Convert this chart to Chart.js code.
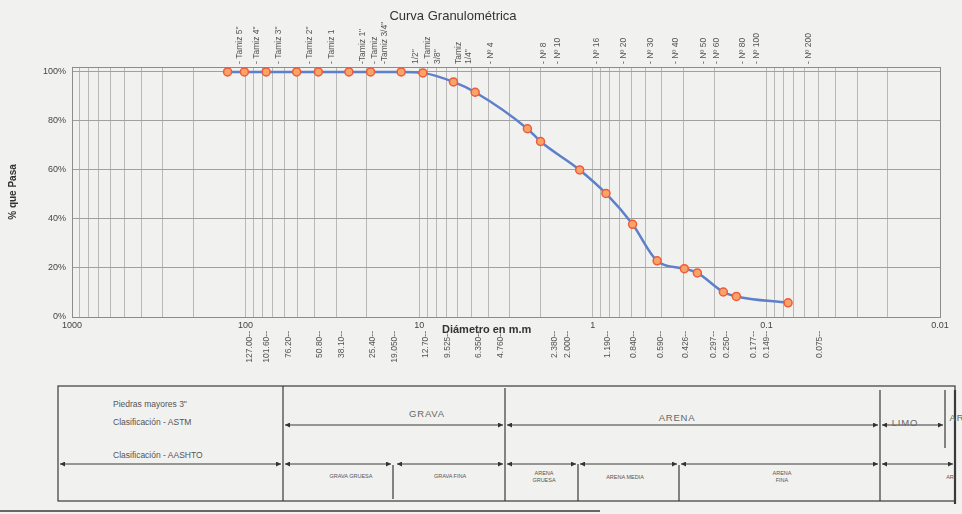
<!DOCTYPE html>
<html lang="es">
<head>
<meta charset="utf-8">
<title>Curva Granulométrica</title>
<script src="https://cdn.jsdelivr.net/npm/chart.js@4.4.1/dist/chart.umd.min.js"></script>
<style>
  html, body { margin: 0; padding: 0; background: #f1f1ef; }
  body { width: 962px; height: 514px; position: relative; overflow: hidden; font-family: "Liberation Sans", Arial, sans-serif; }
  #tabla { position: absolute; left: 0; top: 0; }
  #wrap { position: absolute; left: 0; top: 0; width: 962px; height: 380px; }
  #titulo { position: absolute; top: 8px; left: 353px; width: 200px; text-align: center; font-size: 13px; color: #333; }
  #eje-x { position: absolute; left: 442px; top: 323px; font-size: 11px; font-weight: bold; color: #333; }
</style>
</head>
<body>

<!-- cuadro de clasificación ASTM / AASHTO -->
<svg id="tabla" width="962" height="514" viewBox="0 0 962 514" font-family="Liberation Sans, Arial, sans-serif">
  <defs>
    <marker id="fl" viewBox="0 0 6 6" refX="6" refY="3" markerWidth="5" markerHeight="5" orient="auto-start-reverse">
      <path d="M0,0 L6,3 L0,6 z" fill="#333"/>
    </marker>
  </defs>
  <g stroke="#3a3a3a" stroke-width="1.2" fill="none">
    <rect x="58" y="386" width="897" height="115"/>
    <line x1="283" y1="386" x2="283" y2="501"/>
    <line x1="393" y1="465" x2="393" y2="499"/>
    <line x1="505" y1="388" x2="505" y2="501"/>
    <line x1="578" y1="464" x2="578" y2="501"/>
    <line x1="679" y1="465" x2="679" y2="501"/>
    <line x1="880" y1="390" x2="880" y2="501"/>
    <line x1="945" y1="390" x2="945" y2="448"/>
    <line x1="955" y1="390" x2="955" y2="504" stroke-width="2.2"/>
    <line x1="0" y1="511" x2="600" y2="511" stroke-width="1.6"/>
  </g>
  <g stroke="#3a3a3a" stroke-width="1" marker-start="url(#fl)" marker-end="url(#fl)">
    <line x1="285" y1="425" x2="503" y2="425"/>
    <line x1="507" y1="425" x2="878" y2="425"/>
    <line x1="882" y1="425" x2="943" y2="425"/>
    <line x1="60" y1="464" x2="281" y2="464"/>
    <line x1="285" y1="464" x2="391" y2="464"/>
    <line x1="397" y1="464" x2="503" y2="464"/>
    <line x1="507" y1="464" x2="576" y2="464"/>
    <line x1="580" y1="464" x2="677" y2="464"/>
    <line x1="681" y1="464" x2="878" y2="464"/>
    <line x1="882" y1="464" x2="953" y2="464"/>
  </g>
  <g fill="#555" font-size="8.5">
    <text x="113" y="407">Piedras mayores 3"</text>
    <text x="113" y="425">Clasificación - ASTM</text>
    <text x="113" y="458">Clasificación - AASHTO</text>
  </g>
  <g fill="#666" font-size="9.5" text-anchor="middle" letter-spacing="0.8">
    <text x="427" y="417">GRAVA</text>
    <text x="677" y="421">ARENA</text>
    <text x="905" y="426">LIMO</text>
    <text x="957" y="421">AR</text>
  </g>
  <g fill="#555" font-size="5.5" text-anchor="middle">
    <text x="351" y="478">GRAVA GRUESA</text>
    <text x="450" y="478">GRAVA FINA</text>
    <text x="544" y="475">ARENA</text>
    <text x="544" y="482">GRUESA</text>
    <text x="625" y="479">ARENA MEDIA</text>
    <text x="782" y="475">ARENA</text>
    <text x="782" y="482">FINA</text>
    <text x="950" y="479">AR</text>
  </g>
</svg>

<div id="wrap"><canvas id="curva" width="962" height="380"></canvas></div>
<div id="titulo">Curva Granulométrica</div>
<div id="eje-x">Diámetro en m.m</div>

<script>
// abertura de tamices (mm) y % que pasa
const tamicesMm = [127.00, 101.60, 76.20, 50.80, 38.10, 25.40, 19.050, 12.70, 9.525, 6.350, 4.760,
                   2.380, 2.000, 1.190, 0.840, 0.590, 0.426, 0.297, 0.250, 0.177, 0.149, 0.075];
const porcentajePasa = [100, 100, 100, 100, 100, 100, 100, 100, 99.6, 95.9, 91.7,
                        76.8, 71.6, 60, 50.4, 37.8, 22.9, 19.7, 18, 10.2, 8.4, 5.8];

// etiquetas de la plantilla
const nombresTamiz = ['- Tamiz 5"', '- Tamiz 4"', '- Tamiz 3"', '- Tamiz 2"', '- Tamiz 1', '-Tamiz 1"',
                      ['- Tamiz', '-Tamiz 3/4"'], ['', '1/2"'], ['- Tamiz', '3/8"'], ['Tamiz', '1/4"'], '- Nº 4',
                      '- Nº 8', '- Nº 10', '- Nº 16', '- Nº 20', '- Nº 30', '- Nº 40', '- Nº 50', '- Nº 60',
                      '- Nº 80', '- Nº 100', '- Nº 200'];
const etiquetasMm = ['127.00--', '101.60--', '76.20--', '50.80--', '38.10--', '25.40--', '19.050--', '12.70--',
                     '9.525--', '6.350--', '4.760--', '2.380--', '2.000--', '1.190--', '0.840--', '0.590--',
                     '0.426--', '0.297--', '0.250--', '0.177--', '0.149--', '0.075--'];
const valoresDecada = [1000, 100, 10, 1, 0.1, 0.01];
const etiquetasDecada = ['1000', '100', '10', '1', '0.1', '0.01'];
const ticksY = [0, 20, 40, 60, 80, 100];

document.addEventListener('DOMContentLoaded', function () {
    Chart.defaults.font.family = '"Liberation Sans", Arial, sans-serif';

    // líneas de la cuadrícula logarítmica 1..9 por década
    const lineasLog = [];
    for (let e = -2; e <= 2; e++) {
        for (let m = 1; m <= 9; m++) {
            lineasLog.push(Number((m * Math.pow(10, e)).toPrecision(3)));
        }
    }
    lineasLog.push(1000);

    // las etiquetas de tamices de la plantilla no coinciden con la escala de datos
    const plantillaMin = 0.0155;
    const plantillaMax = 1285;

    const marco = {
        id: 'marco',
        beforeDatasetsDraw(chart) {
            const { ctx, chartArea: a } = chart;
            ctx.save();
            ctx.strokeStyle = '#8c8c8c';
            ctx.lineWidth = 1;
            ctx.strokeRect(a.left + 0.5, a.top + 0.5, a.width, a.height);
            ctx.restore();
        }
    };

    function ejeEtiquetas(posicion, etiquetas, alto, padding) {
        return {
            type: 'logarithmic',
            position: posicion,
            min: plantillaMin,
            max: plantillaMax,
            reverse: true,
            weight: 1,
            grid: { display: false },
            border: { display: false },
            afterBuildTicks: function (s) { s.ticks = tamicesMm.map(v => ({ value: v })); },
            afterFit: function (s) { s.height = alto; },
            ticks: {
                autoSkip: false,
                minRotation: 90,
                maxRotation: 90,
                padding: padding,
                color: '#555',
                font: { size: 8.5 },
                callback: function (v) {
                    const i = tamicesMm.indexOf(v);
                    return i >= 0 ? etiquetas[i] : '';
                }
            }
        };
    }

    const ctx = document.getElementById('curva').getContext('2d');
    new Chart(ctx, {
        type: 'line',
        data: {
            datasets: [{
                label: '% que Pasa',
                data: tamicesMm.map((d, i) => ({ x: d, y: porcentajePasa[i] })),
                borderColor: '#5e7fca',
                borderWidth: 2.5,
                cubicInterpolationMode: 'monotone',
                pointRadius: 4,
                pointBorderWidth: 1.5,
                pointBackgroundColor: '#f7a469',
                pointBorderColor: '#ee5b3b',
                fill: false
            }]
        },
        options: {
            responsive: false,
            animation: false,
            layout: { padding: { left: 0, right: 22, top: 0, bottom: 0 } },
            plugins: {
                legend: { display: false },
                tooltip: { enabled: false },
                title: { display: false }
            },
            scales: {
                x: {
                    type: 'logarithmic',
                    position: 'bottom',
                    min: 0.01,
                    max: 1000,
                    reverse: true,
                    weight: 0,
                    afterBuildTicks: function (s) { s.ticks = lineasLog.map(v => ({ value: v })); },
                    afterFit: function (s) { s.height = 14; },
                    grid: { color: '#b8b8b8', drawTicks: false },
                    border: { display: false },
                    ticks: {
                        autoSkip: false,
                        minRotation: 0,
                        maxRotation: 0,
                        padding: 3,
                        color: '#444',
                        font: { size: 9 },
                        callback: function (v) {
                            const i = valoresDecada.indexOf(v);
                            return i >= 0 ? etiquetasDecada[i] : '';
                        }
                    }
                },
                xMm: ejeEtiquetas('bottom', etiquetasMm, 49, -8),
                xTamiz: ejeEtiquetas('top', nombresTamiz, 67, -5),
                y: {
                    min: 0,
                    max: 102,
                    afterBuildTicks: function (s) { s.ticks = ticksY.map(v => ({ value: v })); },
                    afterFit: function (s) { s.width = 72; },
                    grid: { color: '#a0a0a0', drawTicks: false },
                    border: { display: false },
                    ticks: {
                        padding: 6,
                        color: '#444',
                        font: { size: 9 },
                        callback: v => v + '%'
                    },
                    title: {
                        display: true,
                        text: '% que Pasa',
                        color: '#333',
                        font: { size: 10, weight: 'bold' },
                        padding: { top: 7, bottom: 0 }
                    }
                }
            }
        },
        plugins: [marco]
    });
});
</script>
</body>
</html>
